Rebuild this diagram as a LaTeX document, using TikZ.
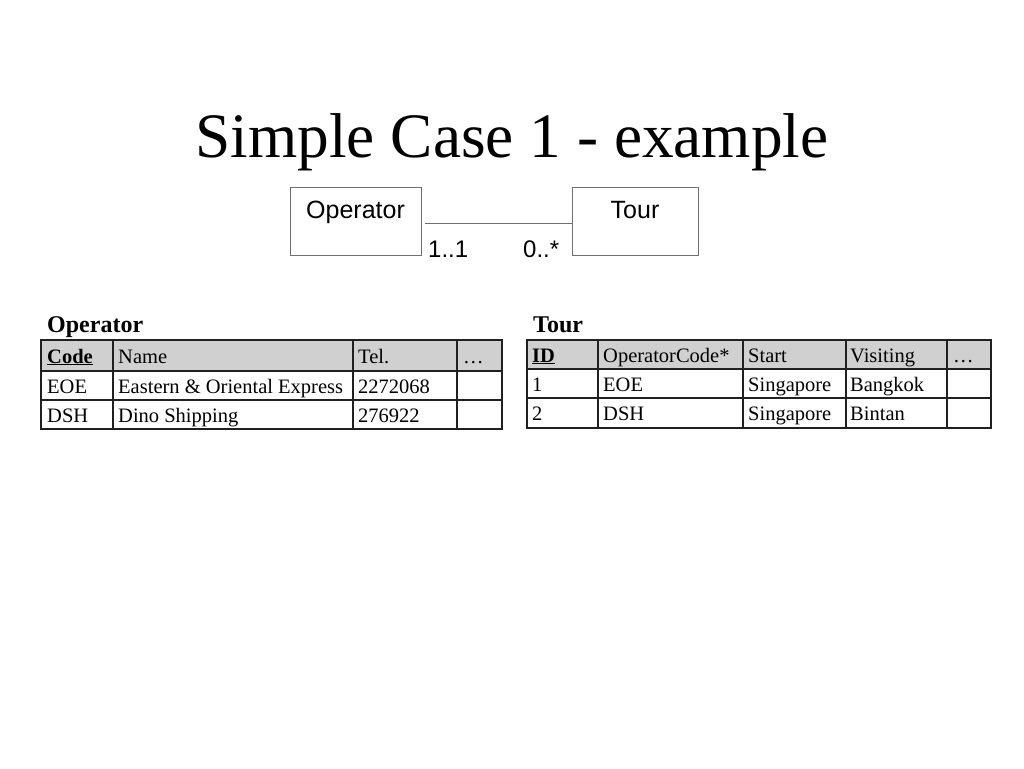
\documentclass[tikz,border=0pt]{standalone}
\usepackage{fontspec}
\setmainfont{Liberation Serif}
\newfontfamily\uisans{Liberation Sans}
\definecolor{hdrgray}{HTML}{D0D0D0}
\definecolor{gridcol}{HTML}{202020}
\definecolor{boxcol}{HTML}{707070}
\begin{document}
\begin{tikzpicture}[x=1pt,y=-1pt,
  umlbox/.style={draw=boxcol,line width=0.8pt,minimum width=#1,minimum height=68,inner sep=0},
  umltext/.style={font=\uisans\fontsize{25}{25}\selectfont,anchor=base},
  multlabel/.style={font=\uisans\fontsize{24}{24}\selectfont,anchor=base west,inner sep=0},
  cell/.style={font=\fontsize{20.5}{20.5}\selectfont,anchor=base west,inner sep=0},
  tabtitle/.style={font=\bfseries\fontsize{24}{24}\selectfont,anchor=base west,inner sep=0},
  gridline/.style={draw=gridcol,line width=1.8pt},
  hdrfill/.style={fill=hdrgray}]
\useasboundingbox (0,0) rectangle (1024,768);
\fill[white] (0,0) rectangle (1024,768);

% Title
\node[font=\fontsize{63.3}{63.3}\selectfont,anchor=base,inner sep=0] (title) at (512,157) {Simple Case 1 - example};

% UML boxes
\node[umlbox=131,anchor=north west] (opbox) at (290,187) {};
\node[umlbox=126,anchor=north west] (tourbox) at (572,187) {};
\node[umltext] (optext) at (355.5,218) {Operator};
\node[umltext] (tourtext) at (635,218) {Tour};
\draw[draw=boxcol,line width=0.8pt] ([shift={(3,2)}]opbox.east) -- ([shift={(0,2)}]tourbox.west);
\node[multlabel] (m1) at (428,257) {1..1};
\node[multlabel] (m2) at (523,257) {0..*};

% Operator table
\node[tabtitle] (optitle) at (47,332) {Operator};
\fill[hdrfill] (41,340) rectangle (502,371);
\draw[gridline] (41,340) rectangle (502,429);
\draw[gridline] (41,371) -- (502,371);
\draw[gridline] (41,400) -- (502,400);
\foreach \xx in {113,353,457} \draw[gridline] (\xx,340) -- (\xx,429);
\node[cell,font=\bfseries\fontsize{20.5}{20.5}\selectfont] (oc1) at (47,363) {\underline{Code}};
\node[cell] (oc2) at (118,363) {Name};
\node[cell] (oc3) at (358,363) {Tel.};
\node[cell] (oc4) at (463,363) {\ldots};
\node[cell] (o11) at (47,393) {EOE};
\node[cell] (o12) at (118,393) {Eastern \& Oriental Express};
\node[cell] (o13) at (358,393) {2272068};
\node[cell] (o21) at (47,422) {DSH};
\node[cell] (o22) at (118,422) {Dino Shipping};
\node[cell] (o23) at (358,422) {276922};

% Tour table
\node[tabtitle] (tourtitle) at (533,332) {Tour};
\fill[hdrfill] (527,340) rectangle (991,369);
\draw[gridline] (527,340) rectangle (991,428);
\draw[gridline] (527,369) -- (991,369);
\draw[gridline] (527,398) -- (991,398);
\foreach \xx in {598,743,846,947} \draw[gridline] (\xx,340) -- (\xx,428);
\node[cell,font=\bfseries\fontsize{20.5}{20.5}\selectfont] (tc1) at (532,362) {\underline{ID}};
\node[cell] (tc2) at (603,362) {OperatorCode*};
\node[cell] (tc3) at (748,362) {Start};
\node[cell] (tc4) at (850,362) {Visiting};
\node[cell] (tc5) at (953,362) {\ldots};
\node[cell] (t11) at (532,391) {1};
\node[cell] (t12) at (603,391) {EOE};
\node[cell] (t13) at (748,391) {Singapore};
\node[cell] (t14) at (850,391) {Bangkok};
\node[cell] (t21) at (532,420) {2};
\node[cell] (t22) at (603,420) {DSH};
\node[cell] (t23) at (748,420) {Singapore};
\node[cell] (t24) at (850,420) {Bintan};
\end{tikzpicture}
\end{document}
